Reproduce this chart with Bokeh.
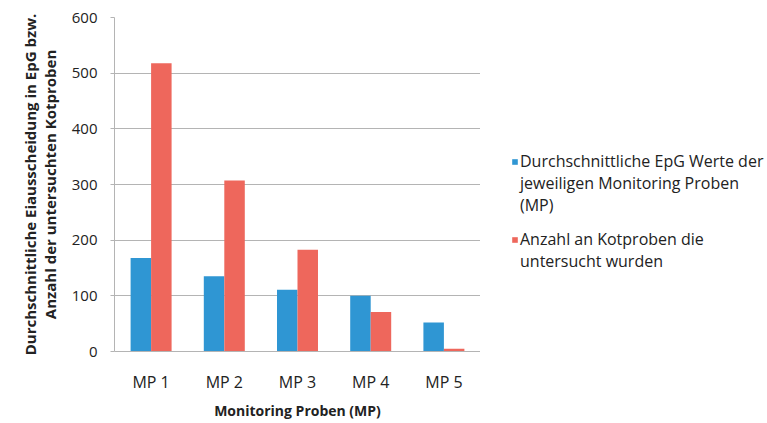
from bokeh.plotting import figure
from bokeh.models import ColumnDataSource, FactorRange, Range1d, Legend, LegendItem
from bokeh.layouts import row
from bokeh.transform import dodge
from bokeh.embed import file_html
from bokeh.resources import INLINE

categories = ["MP 1", "MP 2", "MP 3", "MP 4", "MP 5"]
epg_values = [168, 135, 111, 100, 52]
kotproben = [518, 307, 183, 71, 5]
y_ticks = [0, 100, 200, 300, 400, 500, 600]

series1_lines = ["Durchschnittliche EpG Werte der", "jeweiligen Monitoring Proben", "(MP)"]
series2_lines = ["Anzahl an Kotproben die", "untersucht wurden"]
y_title = "Durchschnittliche Eiausscheidung in EpG bzw.\nAnzahl der untersuchten Kotproben"
x_title = "Monitoring Proben (MP)"

FONT = "Open Sans"
BLUE = "#2F96D3"
RED = "#EE675C"
GRID = "#b4b4b4"
TXT = "#222222"

src = ColumnDataSource(dict(cat=categories, epg=epg_values, kot=kotproben))

# ---------------- main chart ----------------
p = figure(width=480, height=423, x_range=FactorRange(factors=categories, range_padding=0),
           y_range=Range1d(0, 600), output_backend="svg", toolbar_location=None,
           min_border_left=114, min_border_right=0, min_border_top=17, min_border_bottom=72)
p.outline_line_color = None

r1 = p.vbar(x=dodge("cat", -0.14, range=p.x_range), top="epg", width=0.28, source=src,
            fill_color=BLUE, line_color=None)
r2 = p.vbar(x=dodge("cat", 0.14, range=p.x_range), top="kot", width=0.28, source=src,
            fill_color=RED, line_color=None)

p.xgrid.grid_line_color = None
p.ygrid.grid_line_color = GRID
p.ygrid.grid_line_width = 1
p.yaxis.ticker = y_ticks

p.yaxis.axis_line_color = GRID
p.yaxis.major_tick_line_color = GRID
p.yaxis.major_tick_out = 4
p.yaxis.major_tick_in = 0
p.yaxis.minor_tick_line_color = None
p.yaxis.minor_tick_out = 0
p.yaxis.major_label_text_font = FONT
p.yaxis.major_label_text_font_size = "15px"
p.yaxis.major_label_text_color = TXT
p.yaxis.major_label_standoff = 13
p.yaxis.axis_label = y_title
p.yaxis.axis_label_text_font = FONT
p.yaxis.axis_label_text_font_size = "15px"
p.yaxis.axis_label_text_font_style = "bold"
p.yaxis.axis_label_text_color = TXT
p.yaxis.axis_label_text_line_height = 1.0
p.yaxis.axis_label_standoff = 9

p.xaxis.axis_line_color = GRID
p.xaxis.major_tick_line_color = None
p.xaxis.major_tick_out = 0
p.xaxis.major_tick_in = 0
p.xaxis.minor_tick_line_color = None
p.xaxis.minor_tick_out = 0
p.xaxis.major_label_text_font = FONT
p.xaxis.major_label_text_font_size = "16px"
p.xaxis.major_label_text_color = TXT
p.xaxis.major_label_standoff = 19
p.xaxis.axis_label = x_title
p.xaxis.axis_label_text_font = FONT
p.xaxis.axis_label_text_font_size = "14px"
p.xaxis.axis_label_text_font_style = "bold"
p.xaxis.axis_label_text_color = TXT
p.xaxis.axis_label_standoff = 5

# ---------------- legend panel ----------------
lg = figure(width=287, height=423, x_range=FactorRange(factors=categories),
            y_range=Range1d(0, 600), output_backend="svg", toolbar_location=None,
            x_axis_type=None, y_axis_type=None,
            min_border_left=0, min_border_right=0, min_border_top=0, min_border_bottom=0)
lg.outline_line_color = None
lg.xgrid.grid_line_color = None
lg.ygrid.grid_line_color = None

k1 = lg.vbar(x="cat", top="epg", width=0.28, source=src, fill_color=BLUE, line_color=None,
             visible=False)
k2 = lg.vbar(x="cat", top="kot", width=0.28, source=src, fill_color=RED, line_color=None,
             visible=False)
k0 = lg.vbar(x="cat", top="epg", width=0.28, source=src, fill_alpha=0, line_alpha=0,
             visible=False)


def make_legend(lines, glyph_renderer, loc):
    items = [LegendItem(label=lines[0], renderers=[glyph_renderer])]
    items += [LegendItem(label=t, renderers=[k0]) for t in lines[1:]]
    leg = Legend(items=items, location=loc)
    leg.border_line_color = None
    leg.background_fill_alpha = 0
    leg.inactive_fill_alpha = 0
    leg.padding = 0
    leg.margin = 0
    leg.spacing = 0
    leg.glyph_width = 7
    leg.glyph_height = 7
    leg.label_height = 20
    leg.label_standoff = 2
    leg.label_text_font = FONT
    leg.label_text_font_size = "16px"
    leg.label_text_color = TXT
    leg.click_policy = "none"
    return leg


lg.add_layout(make_legend(series1_lines, k1, (31, 135)))
lg.add_layout(make_legend(series2_lines, k2, (31, 79)))

layout = row(p, lg, spacing=0)
open("out.html", "w").write(file_html(layout, INLINE))
